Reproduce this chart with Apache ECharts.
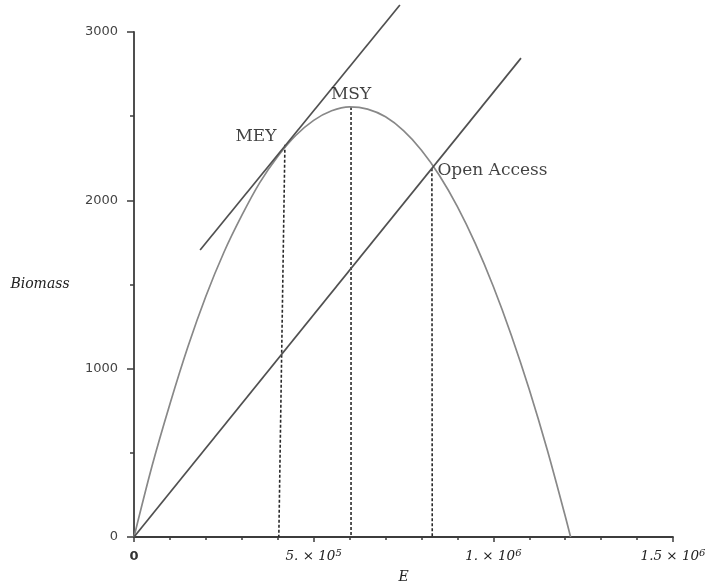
<!DOCTYPE html>
<html>
<head>
<meta charset="utf-8">
<title>Biomass vs effort</title>
<script src="https://cdn.jsdelivr.net/npm/echarts@6/dist/echarts.min.js"></script>
<style>
  html, body { margin: 0; padding: 0; background: #fff; }
  #chart { width: 706px; height: 585px; }
</style>
</head>
<body>
<div id="chart"></div>
<script>
// Yield curve: effort E against biomass
const effort = [0, 50000, 100000, 150000, 200000, 250000, 300000, 350000, 400000,
  450000, 500000, 550000, 600000, 650000, 700000, 750000, 800000, 850000, 900000,
  950000, 1000000, 1050000, 1100000, 1150000, 1200000, 1215000];
const biomass = [0, 420, 790, 1130, 1430, 1690, 1910, 2105, 2260,
  2385, 2475, 2532, 2555, 2542, 2496, 2414, 2298, 2148, 1963,
  1743, 1488, 1199, 876, 518, 125, 0];

// Cost lines (start and end points)
const meyLineE = [184000, 740000];
const meyLineY = [1705, 3160];
const openLineE = [0, 1077000];
const openLineY = [0, 2845];

// Reference points and their drop lines to the axis
const pointNames = ['MEY', 'MSY', 'Open Access'];
const pointE = [420000, 604000, 829000];
const pointY = [2330, 2555, 2190];
const dropE = [403000, 604000, 830000];

// Axis tick labels
const xTickValues = [0, 500000, 1000000, 1500000];
const xTickLabels = ['{z|0}', '5. × 10{sup|5}', '1. × 10{sup|6}', '1.5 × 10{sup|6}'];
const yTickValues = [0, 1000, 2000, 3000];
const yTickLabels = ['0', '1000', '2000', '3000'];

const axisColor = '#3c3c3c';
const serif = 'DejaVu Serif';

const series = [];

series.push({
  type: 'line',
  data: effort.map((e, i) => [e, biomass[i]]),
  smooth: 0.3,
  showSymbol: false,
  lineStyle: { color: '#888', width: 1.7 },
  z: 3
});

series.push({
  type: 'line',
  data: meyLineE.map((e, i) => [e, meyLineY[i]]),
  showSymbol: false,
  clip: false,
  lineStyle: { color: '#505050', width: 1.7 },
  z: 4
});

series.push({
  type: 'line',
  data: openLineE.map((e, i) => [e, openLineY[i]]),
  showSymbol: false,
  clip: false,
  lineStyle: { color: '#505050', width: 1.7 },
  z: 4
});

pointE.forEach((e, i) => {
  series.push({
    type: 'line',
    data: [[e, pointY[i]], [dropE[i], 0]],
    showSymbol: false,
    lineStyle: { color: '#2a2a2a', width: 1.6, type: [3, 2] },
    z: 2
  });
});

const labelPlacement = [
  { position: 'left', distance: 8, offset: [0, -8] },
  { position: 'top', distance: 3, offset: [0, 0] },
  { position: 'right', distance: 5, offset: [0, 2] }
];

series.push({
  type: 'scatter',
  symbolSize: 1,
  itemStyle: { color: 'rgba(0,0,0,0)' },
  data: pointE.map((e, i) => ({
    value: [e, pointY[i]],
    name: pointNames[i],
    label: Object.assign({
      show: true,
      formatter: pointNames[i],
      fontFamily: serif,
      fontSize: 17,
      color: '#111'
    }, labelPlacement[i])
  })),
  z: 5
});

const chart = echarts.init(document.getElementById('chart'), null, { renderer: 'canvas' });
chart.setOption({
  animation: false,
  backgroundColor: '#fff',
  grid: { left: 134, right: 33, top: 32, bottom: 48, containLabel: false, outerBoundsMode: 'none' },
  xAxis: {
    type: 'value',
    min: 0,
    max: 1500000,
    interval: 500000,
    name: 'E',
    nameLocation: 'middle',
    nameGap: 33,
    nameTextStyle: { fontFamily: serif, fontStyle: 'italic', fontSize: 14, color: '#222' },
    axisLine: { lineStyle: { color: axisColor, width: 1.8 } },
    axisTick: { show: true, length: 5, lineStyle: { color: axisColor, width: 1.5 } },
    minorTick: { show: true, splitNumber: 5, length: 3, lineStyle: { color: axisColor, width: 1.5 } },
    splitLine: { show: false },
    axisLabel: {
      margin: 11,
      fontFamily: serif,
      fontStyle: 'italic',
      fontSize: 13.5,
      color: '#222',
      lineHeight: 17,
      formatter: v => xTickLabels[xTickValues.indexOf(v)] || '',
      rich: {
        sup: { fontFamily: serif, fontStyle: 'italic', fontSize: 10, verticalAlign: 'top', lineHeight: 17, color: '#222' },
        z: { fontFamily: 'DejaVu Sans', fontStyle: 'normal', fontWeight: 'bold', fontSize: 13, color: '#333' }
      }
    }
  },
  yAxis: {
    type: 'value',
    min: 0,
    max: 3000,
    interval: 1000,
    name: 'Biomass',
    nameLocation: 'middle',
    nameRotate: 0,
    nameGap: 94,
    nameTextStyle: { fontFamily: serif, fontStyle: 'italic', fontSize: 14, color: '#222', align: 'center', verticalAlign: 'middle' },
    axisLine: { lineStyle: { color: axisColor, width: 1.8 } },
    axisTick: { show: true, length: 7, lineStyle: { color: axisColor, width: 1.5 } },
    minorTick: { show: true, splitNumber: 2, length: 4, lineStyle: { color: axisColor, width: 1.5 } },
    splitLine: { show: false },
    axisLabel: {
      margin: 16,
      fontFamily: 'DejaVu Sans',
      fontSize: 13,
      color: '#444',
      formatter: v => yTickLabels[yTickValues.indexOf(v)] || ''
    }
  },
  series: series
});
</script>
</body>
</html>
